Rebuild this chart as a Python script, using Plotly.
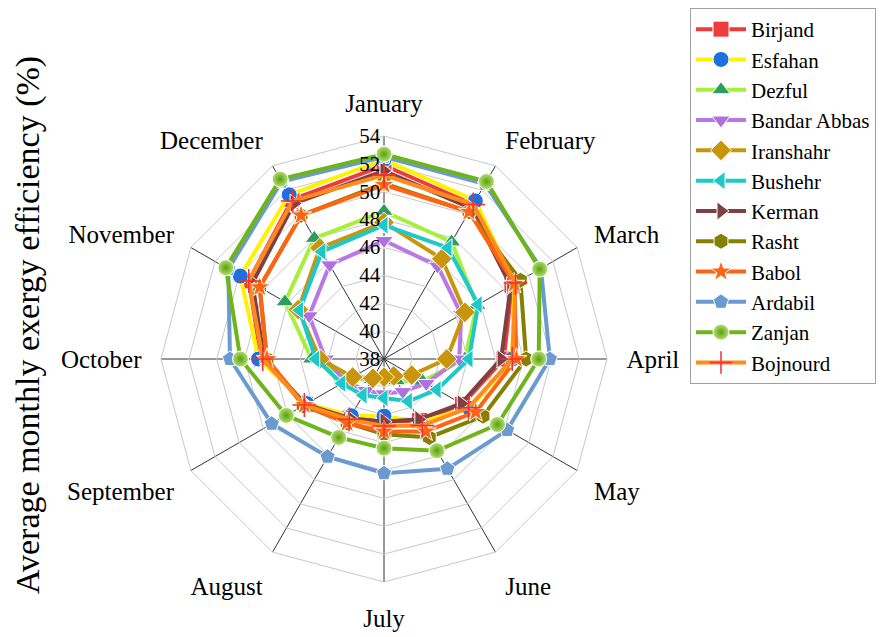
import plotly.graph_objects as go

# Months around the radar (clockwise from top)
months = ["January", "February", "March", "April", "May", "June",
          "July", "August", "September", "October", "November", "December"]

# Average monthly exergy efficiency (%)
birjand = [51.9, 50.8, 48.6, 46.6, 44.5, 43.1, 42.5, 42.9, 44.5, 46.8, 49.2, 51.2]
esfahan = [52.3, 51.1, 48.8, 47.2, 45.1, 43.2, 42.1, 42.7, 44.4, 47.0, 49.9, 51.6]
dezful = [48.6, 47.7, 45.7, 43.8, 41.2, 39.8, 39.4, 39.7, 40.8, 43.2, 46.2, 48.0]
bandar_abbas = [46.5, 45.7, 44.4, 43.4, 41.5, 40.7, 40.5, 40.6, 41.2, 42.2, 44.2, 45.8]
iranshahr = [47.8, 46.3, 44.7, 42.5, 40.3, 39.4, 39.3, 39.6, 40.6, 42.6, 45.1, 47.2]
bushehr = [47.6, 47.2, 45.8, 44.1, 42.4, 41.5, 40.8, 41.0, 41.5, 42.9, 45.0, 46.9]
kerman = [51.5, 50.5, 48.5, 46.4, 44.4, 43.0, 42.5, 42.9, 44.5, 46.6, 48.9, 50.9]
rasht = [50.6, 50.2, 49.3, 48.2, 46.2, 44.5, 43.4, 43.3, 44.7, 46.4, 48.3, 49.9]
babol = [50.5, 50.2, 48.8, 47.5, 45.6, 44.0, 43.2, 43.3, 44.6, 46.4, 48.3, 49.9]
ardabil = [52.5, 52.5, 51.0, 49.9, 48.2, 47.1, 46.2, 46.1, 47.3, 49.05, 50.9, 52.7]
zanjan = [52.7, 52.7, 50.9, 49.1, 47.4, 45.6, 44.4, 44.5, 46.1, 48.3, 51.1, 52.9]
bojnourd = [51.2, 50.8, 48.9, 47.2, 45.0, 43.5, 42.8, 43.0, 44.6, 46.7, 49.2, 51.1]

radial_ticks = [38, 40, 42, 44, 46, 48, 50, 52, 54]

FONT = "Liberation Serif, Times New Roman, serif"
W, H = 890, 637
# the page body has an 8px margin, so lay things out 8px up/left
OFF = 8

# name, values, line colour, marker symbol, marker colour
series = [
    ("Birjand", birjand, "#EE3B3B", "square", "#EE3B3B"),
    ("Esfahan", esfahan, "#FFF200", "circle", "#1E6FE0"),
    ("Dezful", dezful, "#A6F03A", "triangle-up", "#2E9E5E"),
    ("Bandar Abbas", bandar_abbas, "#B878E6", "triangle-down", "#B070E0"),
    ("Iranshahr", iranshahr, "#C9950C", "diamond", "#C9950C"),
    ("Bushehr", bushehr, "#1EC8C8", "triangle-left", "#1EC8C8"),
    ("Kerman", kerman, "#7E4040", "triangle-right", "#7E4040"),
    ("Rasht", rasht, "#858000", "hexagon", "#858000"),
    ("Babol", babol, "#FF6412", "star", "#FF6412"),
    ("Ardabil", ardabil, "#6A9AD0", "pentagon", "#6A9AD0"),
    ("Zanjan", zanjan, "#6DB51A", "circle", "#6DB51A"),
    ("Bojnourd", bojnourd, "#FF8A1E", "cross-thin", "#F03030"),
]

fig = go.Figure()

for name, vals, lcolor, symbol, mcolor in series:
    # close the polygon by repeating the first month
    r = vals + vals[:1]
    theta = months + months[:1]
    if symbol == "cross-thin":
        marker = dict(symbol=symbol, size=17, color=mcolor,
                      line=dict(color=mcolor, width=1.5))
    elif name == "Zanjan":
        # shaded ball look
        marker = dict(symbol=symbol, size=16, color="#B4E070",
                      gradient=dict(type="radial", color="#5A9E12"),
                      line=dict(color="white", width=1))
    else:
        marker = dict(symbol=symbol, size=16, color=mcolor,
                      line=dict(color="white", width=1))
    fig.add_trace(go.Scatterpolar(
        r=r,
        theta=theta,
        name=name,
        mode="lines+markers",
        line=dict(color=lcolor, width=4),
        marker=marker,
    ))

# polar area in screen pixels: centre (384, 359), radius 223
px_left, px_right, px_top, px_bottom = 161 - OFF, 607 - OFF, 136 - OFF, 582 - OFF

fig.update_layout(
    width=W,
    height=H,
    margin=dict(l=0, r=0, t=0, b=0, autoexpand=False),
    paper_bgcolor="white",
    font=dict(family=FONT, color="black"),
    polar=dict(
        domain=dict(x=[px_left / W, px_right / W],
                    y=[(H - px_bottom) / H, (H - px_top) / H]),
        gridshape="linear",
        bgcolor="white",
        radialaxis=dict(
            range=[38, 54],
            tickvals=radial_ticks,
            angle=90,
            tickangle=90,
            side="counterclockwise",
            tickfont=dict(size=21, family=FONT),
            showline=False,
            gridcolor="#C8C8C8",
            gridwidth=1,
            ticks="",
        ),
        angularaxis=dict(
            categoryorder="array",
            categoryarray=months,
            direction="clockwise",
            rotation=90,
            tickfont=dict(size=25, family=FONT),
            gridcolor="#333333",
            gridwidth=1,
            linecolor="#C8C8C8",
            linewidth=1,
            ticks="outside",
            ticklen=14,
            tickcolor="rgba(0,0,0,0)",
        ),
    ),
    legend=dict(
        x=(690 - OFF) / W,
        y=1,
        xanchor="left",
        yanchor="top",
        bgcolor="white",
        bordercolor="#A0A0A0",
        borderwidth=1,
        font=dict(size=21, family=FONT),
        itemwidth=50,
        tracegroupgap=0,
    ),
    showlegend=True,
)

fig.add_annotation(
    text="Average monthly exergy efficiency (%)",
    xref="paper", yref="paper",
    x=(28 - OFF) / W, y=(H - (325 - OFF)) / H,
    xanchor="center", yanchor="middle",
    showarrow=False,
    textangle=-90,
    font=dict(size=34, family=FONT),
)

fig.write_html("out.html")
